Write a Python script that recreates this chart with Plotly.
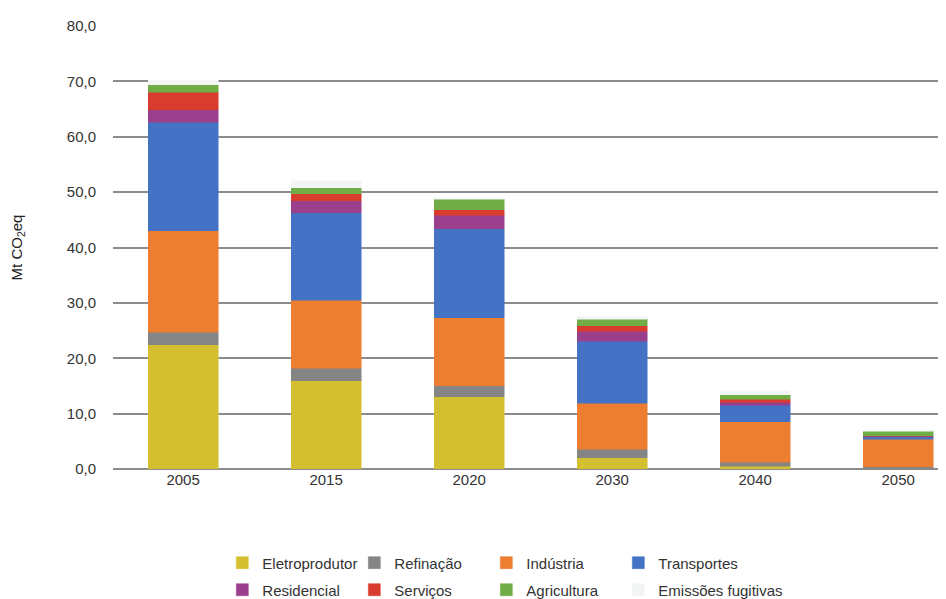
import plotly.graph_objects as go

years = ["2005", "2015", "2020", "2030", "2040", "2050"]
eletroprodutor = [22.4, 15.9, 13.05, 2.0, 0.5, 0.05]
refinacao = [2.3, 2.3, 1.95, 1.55, 0.7, 0.35]
industria = [18.3, 12.3, 12.3, 8.3, 7.35, 5.0]
transportes = [19.6, 15.8, 16.1, 11.2, 2.95, 0.4]
residencial = [2.3, 2.1, 2.4, 1.85, 0.6, 0.1]
servicos = [3.15, 1.3, 1.0, 1.0, 0.5, 0.1]
agricultura = [1.35, 1.1, 1.9, 1.1, 0.8, 0.8]
fugitivas = [0.8, 1.3, 0.2, 0.5, 0.7, 0.1]

series = [
    ("Eletroprodutor", eletroprodutor, "#D4BF30", "legend"),
    ("Refinação", refinacao, "#858585", "legend"),
    ("Indústria", industria, "#ED7D31", "legend"),
    ("Transportes", transportes, "#4472C4", "legend"),
    ("Residencial", residencial, "#9A3F8C", "legend2"),
    ("Serviços", servicos, "#D93B2E", "legend2"),
    ("Agricultura", agricultura, "#70AD47", "legend2"),
    ("Emissões fugitivas", fugitivas, "#F3F4F4", "legend2"),
]

font_family = "Liberation Sans Narrow, Arial Narrow, Liberation Sans, Arial"

fig = go.Figure()
for name, vals, color, lg in series:
    fig.add_trace(go.Bar(
        x=years, y=vals, name=name, legend=lg,
        marker=dict(color=color, line=dict(color=color, width=0.5)),
        width=0.49,
    ))

# invisible spacer entries so the long last labels are not clipped
for lg in ("legend", "legend2"):
    fig.add_trace(go.Bar(
        x=[years[0]], y=[0], name=" ", legend=lg, showlegend=True,
        marker=dict(color="rgba(0,0,0,0)", line=dict(width=0)),
        hoverinfo="skip", width=0.49,
    ))

legend_common = dict(
    orientation="h", xanchor="left", yanchor="middle", traceorder="normal",
    font=dict(family=font_family, size=15, color="#333333"),
    entrywidth=87, entrywidthmode="pixels",
    bgcolor="rgba(0,0,0,0)", itemwidth=30, tracegroupgap=0,
)

fig.update_layout(
    width=946, height=599,
    barmode="stack",
    paper_bgcolor="white", plot_bgcolor="white",
    margin=dict(l=105, r=0, t=18, b=138, autoexpand=False),
    font=dict(family=font_family, size=15, color="#333333"),
    separators=",.",
    legend=dict(x=0.13, y=-0.212, **legend_common),
    legend2=dict(x=0.13, y=-0.273, **legend_common),
    xaxis=dict(
        range=[-0.49, 5.39], showgrid=False, showline=False, zeroline=False,
        ticks="", tickfont=dict(size=15, color="#333333", family=font_family),
    ),
    yaxis=dict(
        range=[0, 80], dtick=10, tickformat=".1f",
        showgrid=True, gridcolor="#8C8C8C", gridwidth=1.5,
        zeroline=True, zerolinecolor="#8C8C8C", zerolinewidth=1.5,
        showline=False, ticks="", ticklabelstandoff=16,
        tickfont=dict(size=15, color="#333333", family=font_family),
        title=dict(text="Mt CO<sub>2</sub>eq", standoff=48,
                   font=dict(size=15, color="#222222", family=font_family)),
    ),
)

fig.write_html("out.html")
